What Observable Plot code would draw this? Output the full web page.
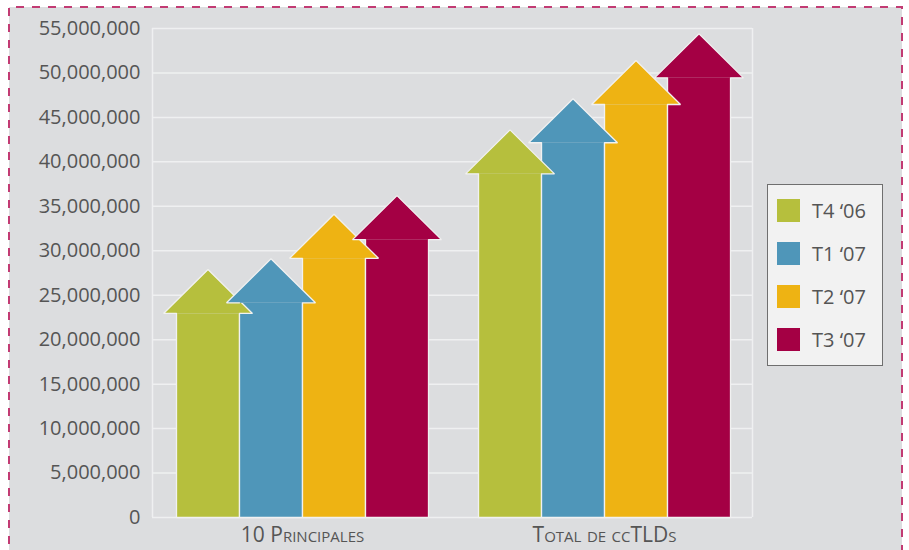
<!DOCTYPE html>
<html>
<head>
<meta charset="utf-8">
<script src="https://cdn.jsdelivr.net/npm/d3@7"></script>
<script src="https://cdn.jsdelivr.net/npm/@observablehq/plot@0.6"></script>
<style>
  html, body { margin: 0; padding: 0; background: #ffffff; width: 909px; height: 550px; overflow: hidden; }
  #wrap { position: relative; width: 909px; height: 550px; }
  #bg { position: absolute; left: 9px; top: 7px; width: 893px; height: 560px; background: #dcdddf; }
  #chart { position: absolute; left: 0; top: 0; }
  #border { position: absolute; left: 0; top: 0; }
  #legend { position: absolute; left: 767px; top: 184px; width: 116px; height: 182px; box-sizing: border-box;
            border: 1.5px solid #6f6f6f; background: #f2f2f2; font-family: 'Open Sans', sans-serif; font-size: 20px; color: #555; }
  #legend .sw { position: absolute; left: 8.5px; width: 23px; height: 23px; }
  #legend .tx { position: absolute; left: 44px; height: 23px; line-height: 23px; white-space: nowrap; }
  g[aria-label^="x-axis"] text { font-variant: small-caps; font-size: 21px; }
</style>
</head>
<body>
<div id="wrap">
  <div id="bg"></div>
  <div id="chart"></div>
  <div id="legend"></div>
  <svg id="border" width="909" height="550"><path d="M9,560V7H902V560" fill="none" stroke="#c23b73" stroke-width="2" stroke-dasharray="8,8"/></svg>
</div>
<script>
// ---- data ----
const categories = ["10 Principales", "Total de ccTLDs"];
const series = ["T4 \u201806", "T1 \u201807", "T2 \u201807", "T3 \u201807"];
const colors = ["#b6bf3d", "#4f96b9", "#eeb313", "#a40044"];
const top10 = [27.9e6, 29.1e6, 34.1e6, 36.2e6];
const totalCcTLDs = [43.6e6, 47.1e6, 51.4e6, 54.4e6];
const yTicks = [0, 5e6, 10e6, 15e6, 20e6, 25e6, 30e6, 35e6, 40e6, 45e6, 50e6, 55e6];

// ---- layout (in shaft-width units on a linear x scale) ----
const xMax = 600 / 63;
const groupOffset = 0.381, groupStep = 4.794;
const overhang = 0.206;
const headHeight = 4.95e6;
const valuesByGroup = [top10, totalCcTLDs];
const centers = categories.map((c, g) => groupOffset + g * groupStep + series.length / 2);

const shafts = series.map(() => []);
const heads = series.map(() => []);
categories.forEach((cat, g) => {
  series.forEach((s, i) => {
    const v = valuesByGroup[g][i];
    const x0 = groupOffset + g * groupStep + i, x1 = x0 + 1, s0 = v - headHeight;
    shafts[i].push({cat, x: x0, y: s0}, {cat, x: x0, y: 0}, {cat, x: x1, y: 0}, {cat, x: x1, y: s0});
    heads[i].push({cat, x: x0, y: s0}, {cat, x: x0 - overhang, y: s0}, {cat, x: (x0 + x1) / 2, y: v},
                  {cat, x: x1 + overhang, y: s0}, {cat, x: x1, y: s0});
  });
});

const outline = {stroke: "#f1f1f1", strokeWidth: 1.3, strokeLinejoin: "miter"};

const plot = Plot.plot({
  width: 909,
  height: 550,
  marginLeft: 152,
  marginRight: 157,
  marginTop: 28,
  marginBottom: 33,
  style: {fontFamily: "'Open Sans', sans-serif", fontSize: "20px", color: "#555", background: "transparent"},
  x: {domain: [0, xMax], ticks: centers, tickFormat: d => categories[Math.round((d - centers[0]) / groupStep)],
      tickSize: 0, tickPadding: 10, label: null},
  y: {domain: [0, 55e6], ticks: yTicks, tickFormat: d3.format(","), tickSize: 0, tickPadding: 12, label: null},
  marks: [
    Plot.ruleY(yTicks, {stroke: "#eff0f1", strokeWidth: 1.5}),
    Plot.ruleX([0, xMax], {y1: 0, y2: 55e6, stroke: "#eff0f1", strokeWidth: 1.5}),
    ...series.map((s, i) => Plot.line(shafts[i], {x: "x", y: "y", z: "cat", fill: colors[i], ...outline})),
    ...series.map((s, i) => Plot.line(heads[i], {x: "x", y: "y", z: "cat", fill: colors[i], ...outline}))
  ]
});
document.getElementById("chart").appendChild(plot);

// ---- legend ----
const legend = document.getElementById("legend");
series.forEach((s, i) => {
  const top = 13.5 + i * 43;
  const sw = document.createElement("div");
  sw.className = "sw"; sw.style.top = top + "px"; sw.style.background = colors[i];
  const tx = document.createElement("div");
  tx.className = "tx"; tx.style.top = top + "px"; tx.textContent = s;
  legend.appendChild(sw); legend.appendChild(tx);
});
</script>
</body>
</html>
